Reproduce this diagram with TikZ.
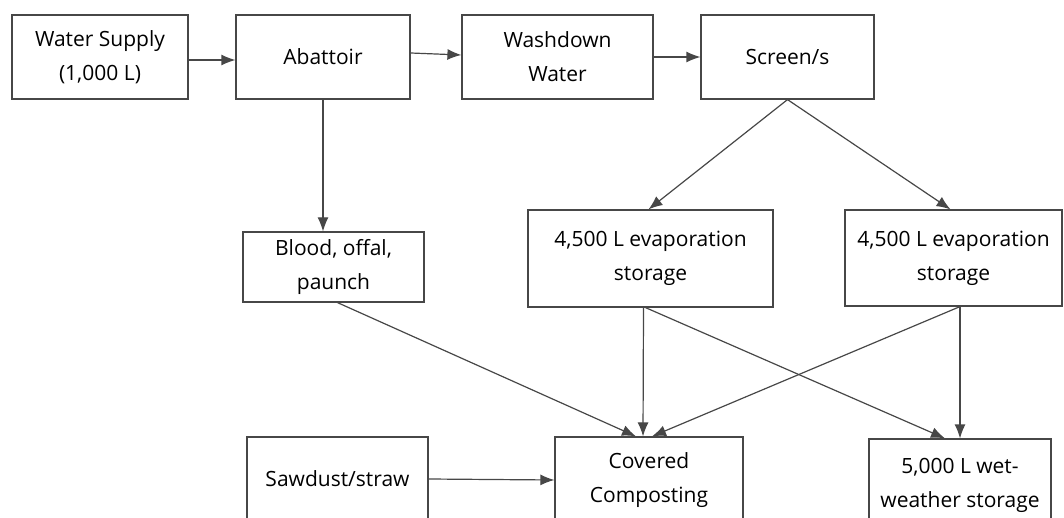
\documentclass[tikz,border=0pt]{standalone}
\usepackage{fontspec}
\setmainfont{Open Sans}
\usetikzlibrary{arrows.meta}
\begin{document}
\begin{tikzpicture}[x=1pt,y=-1pt,
  box/.style={draw=black!72, line width=1.2pt, align=center, inner sep=0pt,
    font=\fontsize{21}{34}\selectfont, text=black},
  arr/.style={draw=black!72, line width=1.2pt, -{Latex[length=14pt,width=11pt]}}]
\useasboundingbox (0,0) rectangle (1064,518);
\clip (0,0) rectangle (1064,518);
\node[box, minimum width=176pt, minimum height=84pt] (ws) at (100,57) {Water Supply\\(1,000 L)};
\node[box, minimum width=174pt, minimum height=84pt] (ab) at (323,57) {Abattoir};
\node[box, minimum width=191pt, minimum height=84pt] (wd) at (557.5,57) {Washdown\\Water};
\node[box, minimum width=173pt, minimum height=84pt] (sc) at (787.5,57) {Screen/s};
\node[box, minimum width=181pt, minimum height=70pt] (bl) at (333.5,267) {Blood, offal,\\paunch};
\node[box, minimum width=245pt, minimum height=97pt] (e1) at (650.5,258.5) {4,500 L evaporation\\storage};
\node[box, minimum width=217pt, minimum height=96pt] (e2) at (953.5,258) {4,500 L evaporation\\storage};
\node[box, minimum width=181pt, minimum height=84pt] (sd) at (337.5,479) {Sawdust/straw};
\node[box, minimum width=188pt, minimum height=86pt] (cc) at (649,480) {Covered\\Composting};
\node[box, minimum width=182pt, minimum height=92pt] (ww) at (960,485) {5,000 L wet-\\weather storage};

\draw[arr] ([yshift=-3pt]ws.east) -- ([yshift=-3pt]ab.west);
\draw[arr] ([yshift=4pt]ab.east) -- ([yshift=2pt]wd.west);
\draw[arr] (wd.east) -- (sc.west);
\draw[arr] (ab.south) -- (ab.south |- bl.north);
\draw[arr] (sc.south) -- ([xshift=-2pt]e1.north);
\draw[arr] (sc.south) -- ([xshift=-3pt]e2.north);
\draw[arr] ([xshift=4pt]bl.south) -- ([xshift=-13pt]cc.north);
\draw[arr] ([xshift=-7pt]e1.south) -- ([xshift=-6pt]cc.north);
\draw[arr] ([xshift=-5pt]e1.south) -- ([xshift=-15pt]ww.north);
\draw[arr] (ww.north |- e2.south) -- (ww.north);
\draw[arr] (ww.north |- e2.south) -- ([xshift=3pt]cc.north);
\draw[arr] (sd.east) -- (cc.west);
\end{tikzpicture}
\end{document}
